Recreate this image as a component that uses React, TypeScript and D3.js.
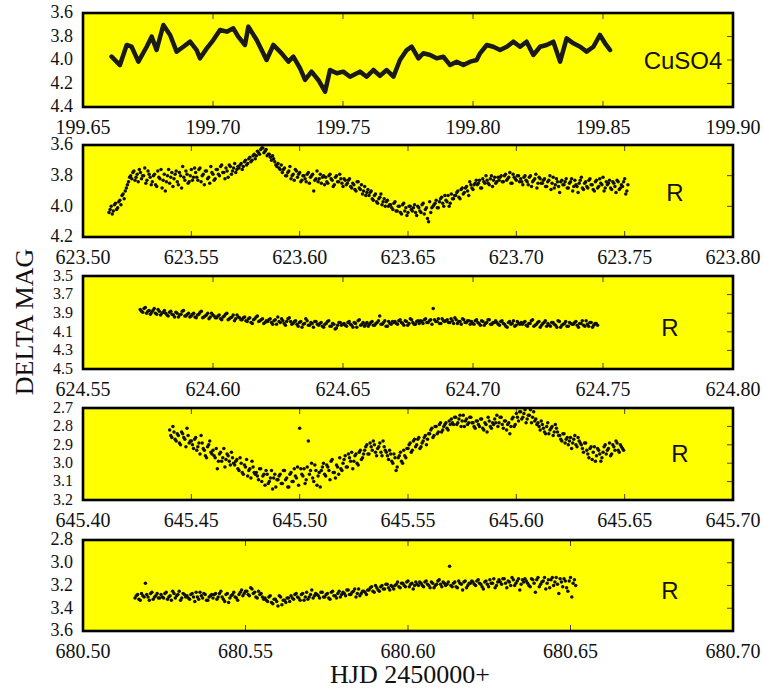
import React from 'react';
import * as d3 from 'd3';

// ---------- Panel 1 : CuSO4 (drawn as a dense line) ----------
const P1_TIMES = [
  199.6610, 199.6642, 199.6668, 199.6687, 199.6713, 199.6745, 199.6764, 199.6783, 199.6809, 199.6835,
  199.6860, 199.6886, 199.6912, 199.6937, 199.6950, 199.6976, 199.7001, 199.7027, 199.7053, 199.7078,
  199.7097, 199.7123, 199.7136, 199.7168, 199.7206, 199.7232, 199.7264, 199.7290, 199.7309, 199.7335,
  199.7354, 199.7379, 199.7405, 199.7431, 199.7450, 199.7476, 199.7501, 199.7527, 199.7565, 199.7591,
  199.7617, 199.7642, 199.7668, 199.7694, 199.7719, 199.7745, 199.7764, 199.7790, 199.7809, 199.7835,
  199.7860, 199.7886, 199.7912, 199.7937, 199.7963, 199.7989, 199.8014, 199.8027, 199.8053, 199.8078,
  199.8104, 199.8130, 199.8155, 199.8181, 199.8206, 199.8232, 199.8258, 199.8283, 199.8309, 199.8335,
  199.8360, 199.8386, 199.8412, 199.8437, 199.8463, 199.8488, 199.8508, 199.8527,
];
const P1_MAGS = [
  3.972, 4.043, 3.872, 3.887, 4.014, 3.887, 3.801, 3.915, 3.702, 3.787,
  3.929, 3.887, 3.844, 3.915, 3.986, 3.901, 3.830, 3.745, 3.759, 3.730,
  3.801, 3.872, 3.716, 3.830, 4.000, 3.872, 3.943, 4.014, 3.972, 4.071,
  4.170, 4.099, 4.170, 4.270, 4.085, 4.113, 4.099, 4.142, 4.099, 4.142,
  4.085, 4.135, 4.085, 4.142, 4.000, 3.915, 3.887, 3.986, 3.943, 3.957,
  3.986, 3.972, 4.043, 4.014, 4.043, 4.014, 4.000, 3.943, 3.872, 3.887,
  3.915, 3.887, 3.844, 3.887, 3.844, 3.957, 3.887, 3.872, 3.844, 4.014,
  3.816, 3.858, 3.887, 3.929, 3.887, 3.787, 3.858, 3.915,
];

// ---------- Panel 2 : R (two interleaved sample runs) ----------
const P2_START = 623.512;
const P2_CADENCE = 0.001;
const P2_MAGS = [
  4.04, 4.00, 4.03, 3.98, 4.01, 3.96, 3.93, 3.95, 3.88, 3.84,
  3.80, 3.78, 3.83, 3.79, 3.76, 3.82, 3.80, 3.85, 3.77, 3.81,
  3.84, 3.79, 3.87, 3.81, 3.76, 3.83, 3.90, 3.80, 3.85, 3.78,
  3.82, 3.77, 3.86, 3.80, 3.74, 3.83, 3.79, 3.84, 3.76, 3.81,
  3.78, 3.83, 3.75, 3.80, 3.86, 3.77, 3.81, 3.74, 3.79, 3.82,
  3.76, 3.80, 3.73, 3.78, 3.75, 3.81, 3.74, 3.77, 3.72, 3.76,
  3.75, 3.72, 3.74, 3.70, 3.72, 3.68, 3.70, 3.66, 3.67, 3.65,
  3.63, 3.62, 3.64, 3.67, 3.66, 3.70, 3.69, 3.73, 3.72, 3.76,
  3.78, 3.75, 3.80, 3.77, 3.82, 3.79, 3.76, 3.81, 3.78, 3.83,
  3.80, 3.84, 3.78, 3.81, 3.79, 3.83, 3.77, 3.82, 3.85, 3.80,
  3.81, 3.85, 3.79, 3.83, 3.86, 3.80, 3.84, 3.82, 3.87, 3.83,
  3.85, 3.82, 3.88, 3.86, 3.90, 3.84, 3.89, 3.92, 3.87, 3.91,
  3.93, 3.90, 3.96, 3.92, 3.98, 3.94, 3.99, 3.95, 3.97, 4.00,
  3.99, 4.02, 3.97, 4.03, 4.00, 4.05, 3.98, 4.01, 4.04, 4.00,
  4.03, 3.99, 4.06, 4.01, 4.04, 3.98, 4.02, 4.08, 3.97, 4.01,
  3.99, 3.96, 4.01, 3.95, 3.98, 3.93, 3.97, 4.00, 3.92, 3.95,
  3.93, 3.90, 3.95, 3.88, 3.91, 3.87, 3.93, 3.86, 3.89, 3.85,
  3.86, 3.83, 3.88, 3.84, 3.80, 3.85, 3.82, 3.87, 3.81, 3.84,
  3.83, 3.80, 3.84, 3.79, 3.82, 3.78, 3.85, 3.81, 3.83, 3.80,
  3.82, 3.86, 3.80, 3.84, 3.81, 3.87, 3.83, 3.79, 3.85, 3.82,
  3.85, 3.82, 3.87, 3.83, 3.89, 3.81, 3.86, 3.84, 3.91, 3.83,
  3.86, 3.82, 3.88, 3.84, 3.90, 3.83, 3.87, 3.85, 3.81, 3.89,
  3.84, 3.88, 3.82, 3.86, 3.90, 3.83, 3.87, 3.85, 3.81, 3.88,
  3.86, 3.83, 3.89, 3.85, 3.91, 3.84, 3.88, 3.87, 3.82, 3.90,
];
const P2_MAGS_B = [
  4.02, 4.05, 3.99, 4.02, 3.97, 3.99, 3.92, 3.90, 3.86, 3.81,
  3.82, 3.77, 3.81, 3.84, 3.78, 3.80, 3.75, 3.83, 3.79, 3.86,
  3.80, 3.86, 3.77, 3.82, 3.88, 3.79, 3.84, 3.76, 3.81, 3.87,
  3.79, 3.84, 3.78, 3.88, 3.81, 3.77, 3.85, 3.80, 3.83, 3.75,
  3.81, 3.76, 3.84, 3.79, 3.77, 3.82, 3.85, 3.78, 3.83, 3.76,
  3.79, 3.74, 3.78, 3.82, 3.77, 3.73, 3.79, 3.75, 3.78, 3.74,
  3.73, 3.76, 3.71, 3.73, 3.69, 3.71, 3.67, 3.69, 3.64, 3.66,
  3.62, 3.65, 3.63, 3.66, 3.68, 3.67, 3.71, 3.74, 3.75, 3.73,
  3.76, 3.80, 3.78, 3.74, 3.80, 3.83, 3.77, 3.79, 3.84, 3.80,
  3.82, 3.79, 3.85, 3.80, 3.90, 3.82, 3.84, 3.79, 3.81, 3.86,
  3.84, 3.80, 3.82, 3.87, 3.81, 3.84, 3.79, 3.85, 3.82, 3.86,
  3.83, 3.87, 3.85, 3.89, 3.84, 3.88, 3.86, 3.90, 3.93, 3.89,
  3.91, 3.95, 3.93, 3.97, 3.95, 3.92, 3.97, 4.00, 3.96, 3.99,
  4.01, 3.98, 4.03, 4.00, 4.04, 3.99, 4.03, 4.06, 4.00, 4.02,
  4.01, 4.04, 4.00, 4.03, 3.99, 4.05, 4.01, 4.10, 4.04, 4.00,
  3.98, 4.01, 3.97, 3.94, 4.00, 3.96, 3.93, 3.98, 3.95, 3.93,
  3.91, 3.94, 3.89, 3.92, 3.88, 3.90, 3.84, 3.88, 3.86, 3.83,
  3.85, 3.88, 3.82, 3.85, 3.83, 3.86, 3.80, 3.83, 3.85, 3.81,
  3.81, 3.84, 3.80, 3.83, 3.81, 3.85, 3.79, 3.82, 3.80, 3.84,
  3.84, 3.81, 3.83, 3.86, 3.80, 3.84, 3.82, 3.88, 3.81, 3.85,
  3.83, 3.87, 3.84, 3.80, 3.85, 3.88, 3.82, 3.87, 3.84, 3.86,
  3.84, 3.88, 3.85, 3.82, 3.87, 3.86, 3.91, 3.83, 3.88, 3.85,
  3.87, 3.83, 3.86, 3.89, 3.84, 3.88, 3.82, 3.86, 3.90, 3.84,
  3.85, 3.88, 3.84, 3.87, 3.83, 3.89, 3.86, 3.84, 3.92, 3.86,
];

// ---------- Panel 3 : R ----------
const P3_START = 624.572;
const P3_CADENCE = 0.00098;
const P3_MAGS = [
  3.86, 3.89, 3.84, 3.88, 3.91, 3.87, 3.90, 3.86, 3.92, 3.89,
  3.90, 3.93, 3.88, 3.92, 3.89, 3.94, 3.91, 3.87, 3.93, 3.90,
  3.93, 3.90, 3.95, 3.91, 3.88, 3.94, 3.92, 3.96, 3.90, 3.93,
  3.95, 3.92, 3.97, 3.93, 3.90, 3.96, 3.94, 3.98, 3.92, 3.95,
  3.97, 3.94, 3.99, 3.95, 4.01, 3.96, 3.93, 3.98, 3.96, 4.00,
  3.99, 3.96, 4.02, 3.97, 3.94, 4.00, 3.98, 4.03, 3.96, 3.99,
  4.01, 3.98, 4.04, 3.99, 4.02, 3.96, 4.03, 4.00, 4.05, 3.99,
  4.03, 4.00, 4.05, 4.01, 3.98, 4.04, 4.02, 4.06, 4.00, 4.03,
  4.01, 4.04, 3.99, 4.03, 4.00, 4.05, 3.97, 4.02, 4.04, 4.00,
  4.02, 3.99, 4.03, 4.00, 3.93, 4.02, 3.98, 4.04, 4.01, 3.99,
  3.99, 4.02, 3.97, 4.01, 3.98, 4.03, 3.96, 4.00, 4.02, 3.98,
  3.98, 4.01, 3.96, 4.00, 3.97, 3.85, 3.99, 3.96, 4.01, 3.98,
  3.98, 4.00, 3.96, 4.01, 3.97, 3.99, 4.02, 3.97, 4.00, 3.98,
  3.99, 4.02, 3.97, 4.01, 3.98, 4.03, 4.00, 3.97, 4.02, 4.00,
  4.00, 4.03, 3.98, 4.02, 4.05, 3.99, 4.01, 4.04, 3.99, 4.02,
  4.02, 3.99, 4.04, 4.01, 3.97, 4.03, 4.00, 4.05, 4.01, 3.98,
  4.01, 4.04, 4.00, 4.03, 3.98, 4.05, 4.02, 3.99, 4.04, 4.01,
  4.02, 3.99, 4.05, 4.01, 4.03, 3.98, 4.04, 4.00, 4.03, 4.01,
];
const P3_MAGS_B = [
  3.88, 3.85, 3.90, 3.87, 3.89, 3.85, 3.91, 3.88, 3.90, 3.87,
  3.92, 3.89, 3.91, 3.94, 3.90, 3.92, 3.88, 3.93, 3.91, 3.94,
  3.91, 3.94, 3.92, 3.89, 3.95, 3.93, 3.90, 3.94, 3.92, 3.95,
  3.93, 3.96, 3.94, 3.91, 3.97, 3.95, 3.92, 3.96, 3.94, 3.97,
  3.95, 3.98, 3.96, 4.00, 3.97, 3.94, 3.99, 3.97, 4.01, 3.98,
  3.97, 4.00, 3.98, 4.02, 3.99, 3.96, 4.01, 3.99, 3.95, 4.02,
  3.99, 4.02, 4.00, 4.05, 4.01, 3.98, 4.03, 4.01, 3.99, 4.02,
  4.01, 4.04, 4.02, 3.99, 4.04, 4.01, 4.07, 4.03, 4.00, 4.02,
  4.03, 4.00, 4.02, 4.05, 4.01, 3.98, 4.03, 4.00, 4.02, 4.04,
  4.00, 4.03, 4.01, 3.98, 4.02, 4.00, 4.04, 3.99, 4.02, 4.00,
  4.01, 3.98, 4.00, 4.03, 3.99, 4.01, 3.97, 4.02, 3.99, 4.01,
  3.99, 3.97, 4.00, 3.98, 4.02, 3.97, 3.99, 4.01, 3.96, 3.99,
  3.97, 4.00, 3.98, 3.95, 4.01, 3.99, 3.96, 4.00, 3.98, 4.02,
  4.01, 3.98, 4.00, 4.03, 3.99, 4.01, 3.97, 4.02, 4.00, 3.98,
  4.02, 3.99, 4.01, 4.04, 4.00, 4.02, 3.98, 4.03, 4.01, 4.00,
  4.00, 4.03, 4.01, 3.98, 4.04, 4.02, 3.99, 4.03, 4.00, 4.04,
  4.03, 4.00, 4.02, 4.05, 3.99, 4.03, 4.01, 4.04, 4.00, 4.02,
  4.00, 4.03, 4.01, 3.98, 4.04, 4.02, 4.00, 4.05, 4.01, 4.03,
];

// ---------- Panel 4 : R ----------
const P4_START = 645.440;
const P4_CADENCE = 0.001;
const P4_MAGS = [
  2.82, 2.86, 2.83, 2.88, 2.85, 2.90, 2.84, 2.87, 2.81, 2.89,
  2.88, 2.92, 2.86, 2.91, 2.95, 2.89, 2.93, 2.97, 2.90, 2.94,
  2.93, 2.97, 3.03, 2.95, 2.99, 2.92, 2.98, 2.96, 3.01, 2.97,
  3.01, 2.98, 3.04, 3.00, 3.06, 3.02, 3.07, 3.03, 2.99, 3.05,
  3.05, 3.09, 3.03, 3.07, 3.12, 3.06, 3.10, 3.04, 3.08, 3.13,
  3.09, 3.06, 3.11, 3.04, 3.08, 3.13, 3.05, 3.10, 3.07, 3.02,
  2.81, 3.06, 3.03, 3.09, 2.88, 3.04, 3.08, 3.01, 3.12, 3.05,
  3.04, 3.00, 3.07, 3.02, 3.09, 2.98, 3.05, 3.01, 3.06, 3.03,
  3.00, 2.96, 3.02, 2.97, 2.94, 2.99, 2.95, 3.01, 2.93, 2.97,
  2.93, 2.90, 2.95, 2.91, 2.88, 2.94, 2.92, 2.89, 2.96, 2.91,
  2.94, 2.98, 2.95, 3.00, 2.97, 3.02, 2.96, 2.99, 2.93, 2.97,
  2.92, 2.89, 2.93, 2.87, 2.90, 2.86, 2.91, 2.88, 2.85, 2.87,
  2.84, 2.81, 2.85, 2.80, 2.83, 2.78, 2.82, 2.79, 2.81, 2.77,
  2.76, 2.79, 2.75, 2.78, 2.74, 2.77, 2.80, 2.76, 2.78, 2.75,
  2.78, 2.81, 2.77, 2.80, 2.76, 2.82, 2.79, 2.75, 2.80, 2.78,
  2.76, 2.74, 2.78, 2.75, 2.81, 2.77, 2.79, 2.84, 2.76, 2.80,
  2.73, 2.77, 2.72, 2.75, 2.71, 2.76, 2.74, 2.78, 2.72, 2.76,
  2.78, 2.82, 2.79, 2.83, 2.80, 2.84, 2.81, 2.85, 2.79, 2.83,
  2.85, 2.88, 2.84, 2.87, 2.90, 2.86, 2.89, 2.85, 2.91, 2.88,
  2.90, 2.94, 2.89, 2.95, 2.92, 2.98, 2.91, 2.96, 2.93, 2.99,
  2.94, 2.90, 2.93, 2.89, 2.95, 2.91, 2.88, 2.93, 2.90, 2.92,
];
const P4_MAGS_B = [
  2.85, 2.80, 2.87, 2.84, 2.89, 2.83, 2.86, 2.91, 2.85, 2.88,
  2.90, 2.87, 2.93, 2.89, 2.85, 2.92, 2.96, 2.91, 2.88, 2.95,
  2.96, 2.92, 2.99, 2.94, 2.97, 3.02, 2.95, 2.99, 2.94, 3.00,
  2.99, 3.03, 2.97, 3.05, 3.01, 2.98, 3.04, 3.08, 3.02, 3.06,
  3.07, 3.03, 3.10, 3.06, 3.04, 3.11, 3.08, 3.14, 3.06, 3.09,
  3.07, 3.11, 3.04, 3.09, 3.13, 3.06, 3.10, 3.03, 3.08, 3.12,
  3.03, 3.07, 3.11, 3.02, 3.06, 3.00, 3.10, 3.04, 3.07, 3.13,
  3.02, 3.06, 3.01, 3.04, 2.99, 3.05, 3.08, 3.02, 2.97, 3.04,
  2.98, 3.02, 2.95, 2.99, 3.03, 2.96, 3.00, 2.94, 2.98, 2.95,
  2.91, 2.95, 2.89, 2.93, 2.90, 2.96, 2.91, 2.94, 2.88, 2.93,
  2.96, 2.93, 2.99, 2.95, 3.04, 2.97, 2.94, 3.00, 2.96, 2.92,
  2.90, 2.94, 2.88, 2.91, 2.87, 2.92, 2.89, 2.86, 2.90, 2.84,
  2.82, 2.86, 2.80, 2.84, 2.79, 2.83, 2.80, 2.78, 2.82, 2.79,
  2.78, 2.75, 2.79, 2.76, 2.80, 2.74, 2.77, 2.79, 2.75, 2.78,
  2.80, 2.77, 2.79, 2.76, 2.81, 2.78, 2.83, 2.77, 2.81, 2.79,
  2.78, 2.80, 2.75, 2.79, 2.77, 2.82, 2.78, 2.80, 2.75, 2.79,
  2.75, 2.72, 2.76, 2.73, 2.78, 2.74, 2.71, 2.75, 2.77, 2.79,
  2.80, 2.77, 2.81, 2.84, 2.78, 2.82, 2.80, 2.83, 2.81, 2.85,
  2.87, 2.84, 2.89, 2.86, 2.88, 2.92, 2.87, 2.90, 2.86, 2.89,
  2.92, 2.89, 2.93, 2.97, 2.91, 2.94, 2.99, 2.92, 2.95, 2.97,
  2.91, 2.95, 2.92, 2.96, 2.90, 2.93, 2.89, 2.94, 2.91, 2.93,
];

// ---------- Panel 5 : R ----------
const P5_START = 680.516;
const P5_CADENCE = 0.0008;
const P5_MAGS = [
  3.31, 3.28, 3.33, 3.29, 3.18, 3.30, 3.27, 3.32, 3.29, 3.31,
  3.28, 3.31, 3.26, 3.30, 3.33, 3.27, 3.29, 3.25, 3.31, 3.28,
  3.29, 3.32, 3.27, 3.34, 3.30, 3.26, 3.31, 3.28, 3.33, 3.29,
  3.31, 3.27, 3.30, 3.25, 3.32, 3.28, 3.35, 3.29, 3.26, 3.31,
  3.28, 3.24, 3.27, 3.25, 3.29, 3.23, 3.26, 3.31, 3.28, 3.30,
  3.31, 3.34, 3.29, 3.36, 3.32, 3.38, 3.30, 3.33, 3.35, 3.31,
  3.29, 3.32, 3.27, 3.31, 3.28, 3.33, 3.26, 3.30, 3.24, 3.29,
  3.28, 3.31, 3.26, 3.30, 3.27, 3.32, 3.25, 3.29, 3.27, 3.30,
  3.26, 3.29, 3.24, 3.28, 3.25, 3.30, 3.23, 3.27, 3.25, 3.28,
  3.24, 3.21, 3.26, 3.22, 3.25, 3.20, 3.23, 3.19, 3.24, 3.21,
  3.20, 3.17, 3.22, 3.18, 3.21, 3.16, 3.19, 3.23, 3.17, 3.20,
  3.18, 3.21, 3.16, 3.20, 3.17, 3.22, 3.19, 3.15, 3.21, 3.18,
  3.19, 3.03, 3.21, 3.17, 3.22, 3.18, 3.24, 3.16, 3.20, 3.18,
  3.17, 3.20, 3.15, 3.19, 3.23, 3.16, 3.21, 3.18, 3.14, 3.20,
  3.15, 3.19, 3.14, 3.22, 3.17, 3.13, 3.20, 3.16, 3.24, 3.15,
  3.14, 3.18, 3.21, 3.15, 3.26, 3.13, 3.19, 3.16, 3.23, 3.15,
  3.15, 3.20, 3.13, 3.27, 3.17, 3.14, 3.22, 3.16, 3.30, 3.15,
];
const P5_MAGS_B = [
  3.29, 3.32, 3.27, 3.30, 3.28, 3.33, 3.26, 3.30, 3.27, 3.31,
  3.30, 3.27, 3.32, 3.29, 3.25, 3.31, 3.28, 3.33, 3.27, 3.30,
  3.31, 3.28, 3.30, 3.26, 3.32, 3.29, 3.27, 3.33, 3.30, 3.28,
  3.28, 3.32, 3.27, 3.30, 3.34, 3.27, 3.31, 3.28, 3.30, 3.33,
  3.26, 3.29, 3.25, 3.28, 3.22, 3.27, 3.30, 3.25, 3.27, 3.32,
  3.33, 3.30, 3.35, 3.32, 3.34, 3.29, 3.37, 3.33, 3.31, 3.34,
  3.31, 3.28, 3.30, 3.33, 3.27, 3.30, 3.32, 3.28, 3.31, 3.27,
  3.29, 3.26, 3.30, 3.28, 3.31, 3.26, 3.29, 3.31, 3.25, 3.28,
  3.27, 3.24, 3.28, 3.26, 3.23, 3.27, 3.29, 3.25, 3.26, 3.24,
  3.22, 3.25, 3.20, 3.24, 3.21, 3.23, 3.19, 3.22, 3.20, 3.23,
  3.19, 3.21, 3.18, 3.20, 3.17, 3.21, 3.18, 3.20, 3.19, 3.17,
  3.20, 3.17, 3.19, 3.22, 3.18, 3.20, 3.16, 3.19, 3.17, 3.20,
  3.17, 3.20, 3.18, 3.21, 3.16, 3.19, 3.17, 3.22, 3.18, 3.16,
  3.19, 3.16, 3.18, 3.21, 3.17, 3.19, 3.15, 3.18, 3.22, 3.17,
  3.17, 3.14, 3.18, 3.16, 3.20, 3.15, 3.18, 3.14, 3.19, 3.17,
  3.16, 3.20, 3.14, 3.18, 3.15, 3.21, 3.17, 3.13, 3.18, 3.22,
  3.13, 3.17, 3.19, 3.14, 3.21, 3.16, 3.25, 3.13, 3.18, 3.20,
];

// ---------- Axis ticks ----------
const P1_XTICKS = [199.65, 199.70, 199.75, 199.80, 199.85, 199.90];
const P1_YTICKS = [3.6, 3.8, 4.0, 4.2, 4.4];
const P2_XTICKS = [623.50, 623.55, 623.60, 623.65, 623.70, 623.75, 623.80];
const P2_YTICKS = [3.6, 3.8, 4.0, 4.2];
const P3_XTICKS = [624.55, 624.60, 624.65, 624.70, 624.75, 624.80];
const P3_YTICKS = [3.5, 3.7, 3.9, 4.1, 4.3, 4.5];
const P4_XTICKS = [645.40, 645.45, 645.50, 645.55, 645.60, 645.65, 645.70];
const P4_YTICKS = [2.7, 2.8, 2.9, 3.0, 3.1, 3.2];
const P5_XTICKS = [680.50, 680.55, 680.60, 680.65, 680.70];
const P5_YTICKS = [2.8, 3.0, 3.2, 3.4, 3.6];

const PANEL_LABELS = ['CuSO4', 'R', 'R', 'R', 'R'];

const SERIF = '"Liberation Serif", "Times New Roman", Times, serif';
const SANS = '"Liberation Sans", Arial, Helvetica, sans-serif';
const LEFT = 83;
const RIGHT = 733;

type Pt = { t: number; m: number };

function sampled(start: number, cadence: number, mags: number[], phase: number): Pt[] {
  return mags.map((m, i) => ({ t: start + (i + phase) * cadence, m }));
}

type PanelSpec = {
  xDomain: [number, number];
  yDomain: [number, number];
  xTicks: number[];
  yTicks: number[];
  yFontSize: number;
  top: number;
  bottom: number;
  label: string;
  labelX: number;
  labelY: number;
  line?: Pt[];
  points?: Pt[];
};

function Panel({ p }: { p: PanelSpec }) {
  const x = d3.scaleLinear().domain(p.xDomain).range([LEFT, RIGHT]);
  const y = d3.scaleLinear().domain(p.yDomain).range([p.top, p.bottom]);
  const lineGen = d3
    .line<Pt>()
    .x((d) => x(d.t))
    .y((d) => y(d.m));
  const innerX = p.xTicks.filter((v, i) => i > 0 && i < p.xTicks.length - 1);
  const innerY = p.yTicks.filter((v, i) => i > 0 && i < p.yTicks.length - 1);
  const tl = 6;
  return (
    <g>
      <rect x={LEFT} y={p.top} width={RIGHT - LEFT} height={p.bottom - p.top} fill="#ffff00" />
      {innerX.map((v) => (
        <g key={'xt' + v}>
          <line x1={x(v)} x2={x(v)} y1={p.top} y2={p.top + tl} stroke="#444" strokeWidth={1} />
          <line x1={x(v)} x2={x(v)} y1={p.bottom} y2={p.bottom - tl} stroke="#444" strokeWidth={1} />
        </g>
      ))}
      {innerY.map((v) => (
        <line key={'yt' + v} x1={RIGHT} x2={RIGHT - tl} y1={y(v)} y2={y(v)} stroke="#444" strokeWidth={1} />
      ))}
      {p.line && (
        <path
          d={lineGen(p.line) || ''}
          fill="none"
          stroke="#1a1a1a"
          strokeWidth={4.5}
          strokeLinejoin="round"
          strokeLinecap="round"
        />
      )}
      {p.points &&
        p.points.map((d, i) => (
          <circle key={i} cx={x(d.t)} cy={y(d.m)} r={1.75} fill="#111" />
        ))}
      <rect
        x={LEFT}
        y={p.top}
        width={RIGHT - LEFT}
        height={p.bottom - p.top}
        fill="none"
        stroke="#000"
        strokeWidth={2.6}
      />
      {p.xTicks.map((v) => (
        <text
          key={'xl' + v}
          x={x(v)}
          y={p.bottom + 27}
          textAnchor="middle"
          fontFamily={SERIF}
          fontSize={20}
          fill="#111"
        >
          {v.toFixed(2)}
        </text>
      ))}
      {p.yTicks.map((v) => (
        <text
          key={'yl' + v}
          x={73}
          y={y(v)}
          dy="0.3em"
          textAnchor="end"
          fontFamily={SERIF}
          fontSize={p.yFontSize}
          fill="#111"
        >
          {v.toFixed(1)}
        </text>
      ))}
      <text
        x={p.labelX}
        y={p.labelY}
        dy="0.36em"
        textAnchor="middle"
        fontFamily={SANS}
        fontSize={24}
        fill="#111"
      >
        {p.label}
      </text>
    </g>
  );
}

export default function App() {
  const panels: PanelSpec[] = [
    {
      xDomain: [199.65, 199.9], yDomain: [3.6, 4.4], xTicks: P1_XTICKS, yTicks: P1_YTICKS, yFontSize: 18,
      top: 13, bottom: 107, label: PANEL_LABELS[0], labelX: 683, labelY: 60,
      line: P1_TIMES.map((t, i) => ({ t, m: P1_MAGS[i] })),
    },
    {
      xDomain: [623.5, 623.8], yDomain: [3.6, 4.2], xTicks: P2_XTICKS, yTicks: P2_YTICKS, yFontSize: 18,
      top: 145, bottom: 237, label: PANEL_LABELS[1], labelX: 675, labelY: 192,
      points: [
        ...sampled(P2_START, P2_CADENCE, P2_MAGS, 0),
        ...sampled(P2_START, P2_CADENCE, P2_MAGS_B, 0.5),
      ],
    },
    {
      xDomain: [624.55, 624.8], yDomain: [3.5, 4.5], xTicks: P3_XTICKS, yTicks: P3_YTICKS, yFontSize: 16,
      top: 276, bottom: 369, label: PANEL_LABELS[2], labelX: 670, labelY: 327,
      points: [
        ...sampled(P3_START, P3_CADENCE, P3_MAGS, 0),
        ...sampled(P3_START, P3_CADENCE, P3_MAGS_B, 0.5),
      ],
    },
    {
      xDomain: [645.4, 645.7], yDomain: [2.7, 3.2], xTicks: P4_XTICKS, yTicks: P4_YTICKS, yFontSize: 16,
      top: 408, bottom: 500, label: PANEL_LABELS[3], labelX: 680, labelY: 453,
      points: [
        ...sampled(P4_START, P4_CADENCE, P4_MAGS, 0),
        ...sampled(P4_START, P4_CADENCE, P4_MAGS_B, 0.5),
      ],
    },
    {
      xDomain: [680.5, 680.7], yDomain: [2.8, 3.6], xTicks: P5_XTICKS, yTicks: P5_YTICKS, yFontSize: 18,
      top: 540, bottom: 631, label: PANEL_LABELS[4], labelX: 670, labelY: 590,
      points: [
        ...sampled(P5_START, P5_CADENCE, P5_MAGS, 0),
        ...sampled(P5_START, P5_CADENCE, P5_MAGS_B, 0.5),
      ],
    },
  ];
  return (
    <svg
      width={764}
      height={688}
      style={{ position: 'absolute', left: 0, top: 0, background: '#fff' }}
    >
      <rect x={0} y={0} width={764} height={688} fill="#fff" />
      {panels.map((p, i) => (
        <Panel key={i} p={p} />
      ))}
      <text
        transform="translate(33,322) rotate(-90)"
        textAnchor="middle"
        fontFamily={SERIF}
        fontSize={26}
        fill="#111"
      >
        DELTA MAG
      </text>
      <text x={410} y={683} textAnchor="middle" fontFamily={SERIF} fontSize={26} fill="#111">
        HJD 2450000+
      </text>
    </svg>
  );
}
